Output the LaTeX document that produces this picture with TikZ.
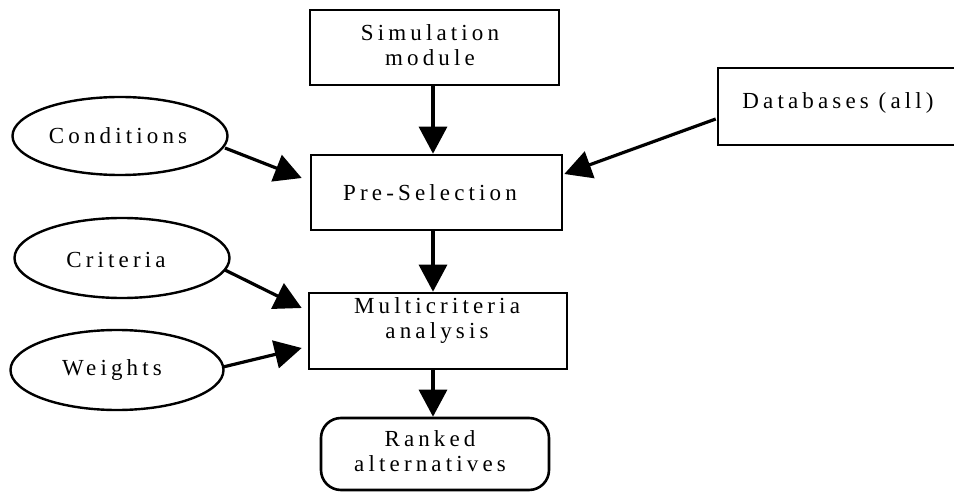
\documentclass[tikz,border=0pt]{standalone}
\usepackage{fontspec}
\setmainfont{Liberation Serif}[LetterSpace=18]
\usetikzlibrary{arrows.meta,shapes.geometric,calc}
\tikzset{
  box/.style={draw, line width=2.6pt, rectangle, inner sep=0pt},
  rbox/.style={draw, line width=2.6pt, rectangle, rounded corners=20pt, inner sep=0pt},
  oval/.style={draw, line width=2.4pt, ellipse, inner sep=0pt},
  txt/.style={align=center, inner sep=0pt, font=\fontsize{23}{25}\selectfont},
  arr/.style={line width=3.2pt, -{Triangle[length=27pt,width=28pt]}}
}
\begin{document}
\begin{tikzpicture}[x=1pt,y=-1pt]
\clip (0,0) rectangle (954,492);
\fill[white] (0,0) rectangle (954,492);
% boxes
\node[box, minimum width=249pt, minimum height=75pt] (sim) at (434.5,47.5) {};
\node[txt] (simT) at (430,45) {Simulation\\module};
\node[box, minimum width=251pt, minimum height=75pt] (pre) at (436.5,192.5) {};
\node[txt] (preT) at (430,193) {Pre-Selection};
\node[box, minimum width=258pt, minimum height=76pt] (multi) at (438,331) {};
\node[txt] (multiT) at (437,321) {Multicriteria\\analysis};
\node[rbox, minimum width=228pt, minimum height=72pt] (rank) at (435,454) {};
\node[txt] (rankT) at (430,451) {Ranked\\alternatives};
\node[box, minimum width=250pt, minimum height=77pt] (db) at (843,106.5) {};
\node[txt] (dbT) at (838,103) {Databases (all)};
% ellipses
\node[oval, minimum width=215pt, minimum height=78pt] (cond) at (120,136) {};
\node[txt] (condT) at (118,136) {Conditions};
\node[oval, minimum width=215pt, minimum height=80pt] (crit) at (122,258) {};
\node[txt] (critT) at (116,260) {Criteria};
\node[oval, minimum width=213pt, minimum height=80pt] (wgt) at (117,370) {};
\node[txt] (wgtT) at (112,370) {Weights};
% connectors
\draw[arr] ([xshift=-1.5pt]sim.south) -- ([xshift=-1.5pt]sim.south |- pre.north);
\draw[arr] ([xshift=-3.5pt]pre.south) -- ([xshift=-3.5pt]pre.south |- multi.north);
\draw[arr] ([xshift=-5pt]multi.south) -- ([xshift=-5pt]multi.south |- rank.north);
\draw[arr] ([shift={(105,12)}]cond.center) -- ([shift={(-8,-14.5)}]pre.west);
\draw[arr] ([shift={(-1,12.5)}]db.west) -- ([shift={(1,-18.5)}]pre.east);
\draw[arr] ([shift={(103,12)}]crit.center) -- ([shift={(-6,-23)}]multi.west);
\draw[arr] ([shift={(106,-3)}]wgt.center) -- ([shift={(-6,17)}]multi.west);
\end{tikzpicture}
\end{document}
